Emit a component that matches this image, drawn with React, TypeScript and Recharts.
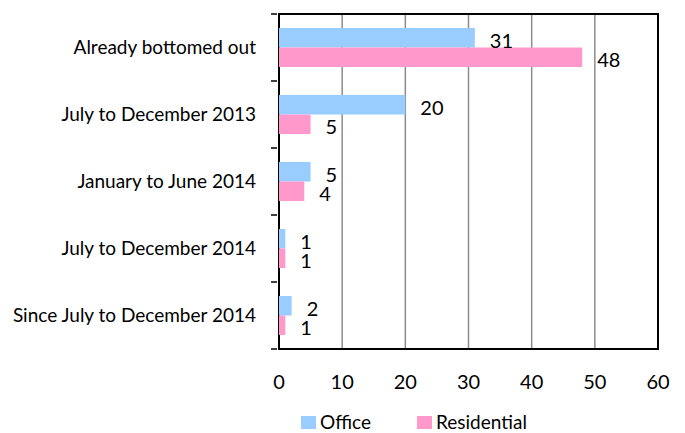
import { BarChart, Bar, XAxis, YAxis, CartesianGrid, LabelList, ReferenceArea } from 'recharts'

const categories = [
  'Already bottomed out',
  'July to December 2013',
  'January to June 2014',
  'July to December 2014',
  'Since July to December 2014',
]
const officeValues = [31, 20, 5, 1, 2]
const residentialValues = [48, 5, 4, 1, 1]
const xTicks = [0, 10, 20, 30, 40, 50, 60]

const OFFICE_COLOR = '#99ccff'
const RESIDENTIAL_COLOR = '#ff99cc'
const FONT = 'Lato, "Open Sans", sans-serif'

const W = 685
const H = 433
const PLOT_TOP = 14
const PLOT_BOTTOM = 349
const BAND = (PLOT_BOTTOM - PLOT_TOP) / categories.length

const data = categories.map((name, i) => ({
  name,
  office: officeValues[i],
  residential: residentialValues[i],
}))

// category label + tick marks on band boundaries
function CategoryTick(props: any) {
  const { x, y, payload, index } = props
  const half = BAND / 2
  return (
    <g>
      <line x1={x - 6} x2={x} y1={y + half} y2={y + half} stroke="#000" strokeWidth={1.5} />
      {index === 0 && <line x1={x - 6} x2={x} y1={y - half} y2={y - half} stroke="#000" strokeWidth={1.5} />}
      <text x={x - 21} y={y} dy={6} textAnchor="end" fontSize={19} fontFamily={FONT} fill="#000">
        {payload.value}
      </text>
    </g>
  )
}

function ChartLegend() {
  const items = [
    { label: 'Office', color: OFFICE_COLOR, left: 301 },
    { label: 'Residential', color: RESIDENTIAL_COLOR, left: 417 },
  ]
  return (
    <>
      {items.map(it => (
        <div
          key={it.label}
          style={{ position: 'absolute', left: it.left, top: 412, display: 'flex', alignItems: 'center', gap: 4, fontFamily: FONT, fontSize: 19, whiteSpace: 'nowrap' }}
        >
          <div style={{ width: 15, height: 13, background: it.color }} />
          <span style={{ lineHeight: '20px' }}>{it.label}</span>
        </div>
      ))}
    </>
  )
}

export default function App() {
  return (
    <div style={{ position: 'absolute', left: 0, top: 0, width: W, height: H, background: '#fff' }}>
      <BarChart
        width={W}
        height={H}
        data={data}
        layout="vertical"
        margin={{ top: PLOT_TOP, right: 27, left: 0, bottom: 0 }}
        barGap={0}
        barSize={19.5}
      >
        <CartesianGrid horizontal={false} stroke="#8c8c8c" strokeWidth={1.5} />
        <XAxis
          type="number"
          domain={[0, 60]}
          ticks={xTicks}
          tickLine={false}
          axisLine={false}
          tickMargin={20}
          height={H - PLOT_BOTTOM}
          tick={{ fontSize: 20, fill: '#000', fontFamily: FONT }}
        />
        <YAxis
          type="category"
          dataKey="name"
          width={279}
          tickLine={false}
          tickSize={0}
          axisLine={false}
          tick={<CategoryTick />}
          interval={0}
        />
        <Bar dataKey="office" name="Office" fill={OFFICE_COLOR} isAnimationActive={false}>
          <LabelList dataKey="office" position="right" offset={15} dy={3} fill="#000" fontSize={20} fontFamily={FONT} />
        </Bar>
        <Bar dataKey="residential" name="Residential" fill={RESIDENTIAL_COLOR} isAnimationActive={false}>
          <LabelList dataKey="residential" position="right" offset={15} dy={3} fill="#000" fontSize={20} fontFamily={FONT} />
        </Bar>
        {/* plot frame */}
        <ReferenceArea x1={0} x2={60} fill="none" stroke="#000" strokeWidth={2} ifOverflow="visible" />
      </BarChart>
      <ChartLegend />
    </div>
  )
}
